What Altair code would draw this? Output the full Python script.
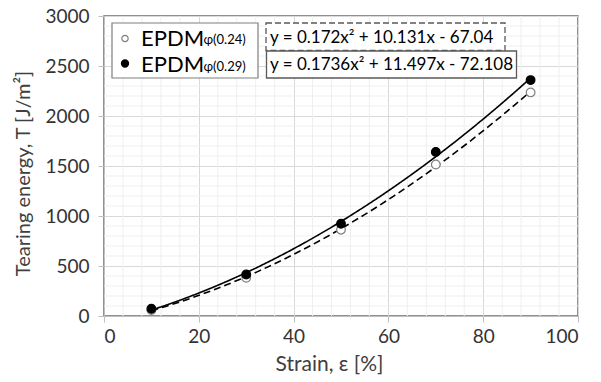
import altair as alt
import pandas as pd

# ---- data ----
strain = [10, 30, 50, 70, 90]
t_024 = [60, 382, 863, 1515, 2236]
t_029 = [72, 415, 923, 1641, 2359]
series_names = ["EPDM 0.24", "EPDM 0.29"]
legend_main = ["EPDM", "EPDM"]
legend_sub = ["φ(0.24)", "φ(0.29)"]
equations = ["y = 0.172x² + 10.131x - 67.04", "y = 0.1736x² + 11.497x - 72.108"]
x_ticks = [0, 20, 40, 60, 80, 100]
y_ticks = [0, 500, 1000, 1500, 2000, 2500, 3000]
x_minor = [v for v in range(0, 101, 4) if v % 20]
y_minor = [v for v in range(0, 3001, 100) if v % 500]

rows = []
for name, vals in zip(series_names, [t_024, t_029]):
    for s, t in zip(strain, vals):
        rows.append({"strain": s, "T": t, "series": name})
df = pd.DataFrame(rows)

FONT = "Lato"
W, H = 474, 300

xscale = alt.Scale(domain=[0, 100], nice=False)
yscale = alt.Scale(domain=[0, 3000], nice=False)

xaxis = alt.Axis(values=x_ticks, format="d", title="Strain, ε [%]", titleFontSize=21,
                 titleFontWeight="normal", titleColor="#404040",
                 titleX=225, titleY=54, titleAlign="center", titleBaseline="alphabetic",
                 labelFontSize=19, labelColor="#333333", labelPadding=5, tickSize=6,
                 grid=True)
yaxis = alt.Axis(values=y_ticks, format="d", title="Tearing energy, T [J/m²]", titleFontSize=20,
                 titleFontWeight="normal", titleColor="#404040",
                 titleX=-81, titleY=157, titleAlign="center", titleBaseline="middle",
                 labelFontSize=19, labelColor="#333333", labelPadding=9, tickSize=6,
                 grid=True)

# minor grid lines
minor_x = alt.Chart(pd.DataFrame({"v": x_minor})).mark_rule(color="#efefef", strokeWidth=1).encode(
    x=alt.X("v:Q", scale=xscale, axis=xaxis), y=alt.datum(0), y2=alt.datum(3000))
minor_y = alt.Chart(pd.DataFrame({"v": y_minor})).mark_rule(color="#efefef", strokeWidth=1).encode(
    y=alt.Y("v:Q", scale=yscale, axis=yaxis), x=alt.datum(0), x2=alt.datum(100))

base = alt.Chart(df)

lines = base.transform_regression(
    "strain", "T", groupby=["series"], method="poly", order=2, extent=[10, 90]
).mark_line(color="black", strokeWidth=1.6).encode(
    x=alt.X("strain:Q", scale=xscale, axis=xaxis),
    y=alt.Y("T:Q", scale=yscale, axis=yaxis),
    strokeDash=alt.StrokeDash("series:N", scale=alt.Scale(domain=series_names, range=[[7, 4], [1, 0]]), legend=None),
    detail="series:N",
)

points = base.mark_point(filled=True, shape="circle", size=75, strokeWidth=1.2, opacity=1).encode(
    x=alt.X("strain:Q", scale=xscale, axis=xaxis),
    y=alt.Y("T:Q", scale=yscale, axis=yaxis),
    fill=alt.Fill("series:N", scale=alt.Scale(domain=series_names, range=["white", "black"]), legend=None),
    stroke=alt.Stroke("series:N", scale=alt.Scale(domain=series_names, range=["#7f7f7f", "black"]), legend=None),
)

one = pd.DataFrame({"k": [0]})

# legend box
leg_box = alt.Chart(one).mark_rect(fill="white", stroke="#7f7f7f", strokeWidth=1.2).encode(
    x=alt.value(8), x2=alt.value(154), y=alt.value(7), y2=alt.value(62))
leg_pt1 = alt.Chart(one).mark_point(shape="circle", size=40, fill="white", stroke="#7f7f7f", filled=True, strokeWidth=1.2, opacity=1).encode(
    x=alt.value(21), y=alt.value(22.5))
leg_pt2 = alt.Chart(one).mark_point(shape="circle", size=40, fill="black", stroke="black", filled=True, opacity=1).encode(
    x=alt.value(21), y=alt.value(47.5))
leg_t1 = alt.Chart(pd.DataFrame({"t": [legend_main[0]]})).mark_text(font=FONT, fontSize=22, align="left", baseline="alphabetic", color="black").encode(
    text="t:N", x=alt.value(37), y=alt.value(29.5))
leg_t2 = alt.Chart(pd.DataFrame({"t": [legend_main[1]]})).mark_text(font=FONT, fontSize=22, align="left", baseline="alphabetic", color="black").encode(
    text="t:N", x=alt.value(37), y=alt.value(56))
leg_s1 = alt.Chart(pd.DataFrame({"t": [legend_sub[0]]})).mark_text(font=FONT, fontSize=13, align="left", baseline="alphabetic", color="black").encode(
    text="t:N", x=alt.value(99.5), y=alt.value(28))
leg_s2 = alt.Chart(pd.DataFrame({"t": [legend_sub[1]]})).mark_text(font=FONT, fontSize=13, align="left", baseline="alphabetic", color="black").encode(
    text="t:N", x=alt.value(99.5), y=alt.value(54.5))

# equation boxes
eq_box1 = alt.Chart(one).mark_rect(fill="white", stroke="#595959", strokeWidth=1.3, strokeDash=[6, 3]).encode(
    x=alt.value(162), x2=alt.value(401), y=alt.value(7), y2=alt.value(34.5))
eq_box2 = alt.Chart(one).mark_rect(fill="white", stroke="#595959", strokeWidth=1.3).encode(
    x=alt.value(162.5), x2=alt.value(412.5), y=alt.value(35), y2=alt.value(62))
eq_t1 = alt.Chart(pd.DataFrame({"t": [equations[0]]})).mark_text(font=FONT, fontSize=17, align="left", baseline="alphabetic", color="black").encode(
    text="t:N", x=alt.value(166), y=alt.value(27))
eq_t2 = alt.Chart(pd.DataFrame({"t": [equations[1]]})).mark_text(font=FONT, fontSize=17, align="left", baseline="alphabetic", color="black").encode(
    text="t:N", x=alt.value(166), y=alt.value(54))

chart = alt.layer(
    minor_x, minor_y, lines, points,
    leg_box, leg_pt1, leg_pt2, leg_t1, leg_t2, leg_s1, leg_s2,
    eq_box1, eq_box2, eq_t1, eq_t2,
).properties(
    width=W, height=H,
    autosize=alt.AutoSizeParams(type="none"),
    padding={"left": 104, "top": 16, "right": 601 - 104 - W, "bottom": 382 - 16 - H},
    background="white",
).configure(font=FONT).configure_view(
    stroke="#6e6e6e", strokeWidth=1.5
).configure_axis(
    domainColor="#bfbfbf", tickColor="#bfbfbf", gridColor="#d9d9d9", labelFont=FONT, titleFont=FONT
)

chart.save("out.html", embed_options={"renderer": "svg", "actions": False})
